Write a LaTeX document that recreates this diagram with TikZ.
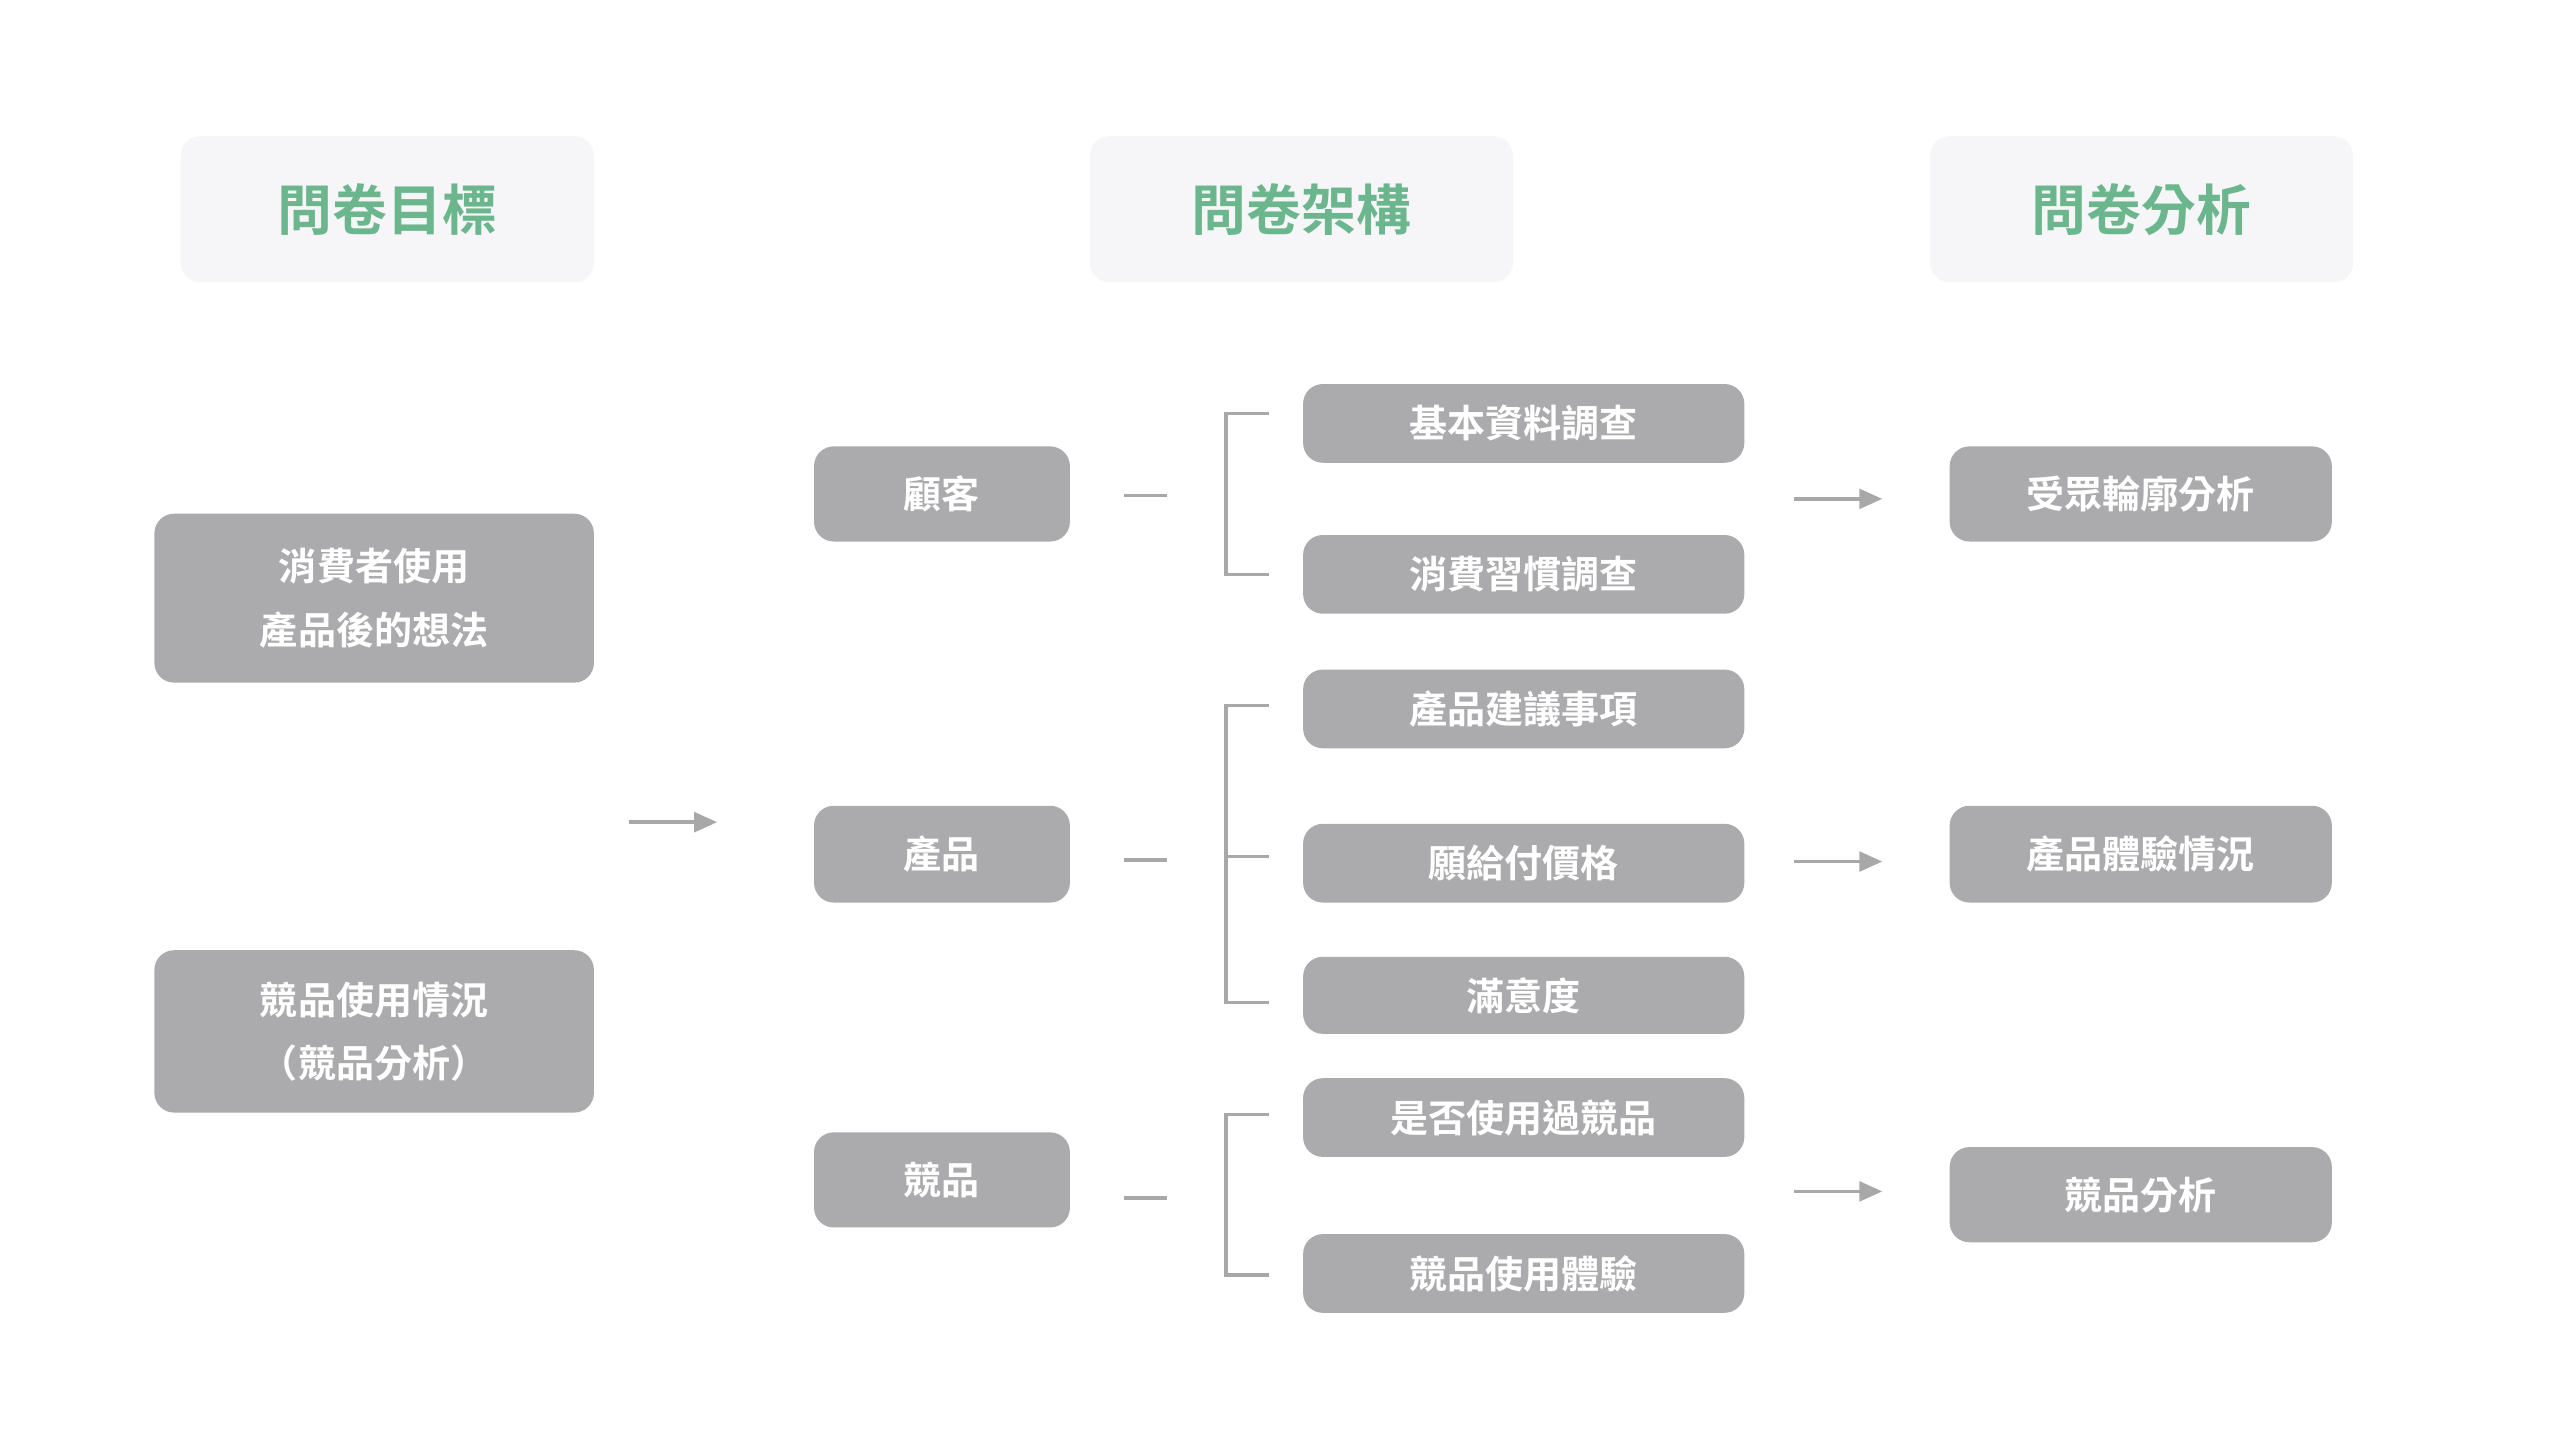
\documentclass[tikz,border=0pt]{standalone}
\usepackage{fontspec}
\newfontfamily\cjk{Noto Sans CJK TC}[BoldFont={Noto Sans CJK TC Bold}]
\usetikzlibrary{arrows.meta}
\definecolor{boxg}{HTML}{ABAAAD}
\definecolor{hdr}{HTML}{F6F6F8}
\definecolor{grn}{HTML}{6CB68E}
\definecolor{ln}{HTML}{A8A8A8}
\tikzset{
 box/.style={fill=boxg,rounded corners=1.2mm,text=white,font=\cjk\bfseries\fontsize{6.6}{9}\selectfont,align=center,inner sep=0pt},
 hd/.style={fill=hdr,rounded corners=1.2mm,text=grn,font=\cjk\bfseries\fontsize{9.5}{11}\selectfont,inner sep=0pt},
 cn/.style={draw=ln,line width=0.6pt},
 ar/.style={cn,-{Triangle[length=1.4mm,width=1.2mm]}}
}
\newcommand\bx[7]{\node[#1,minimum width={(#4-#3)*0.01cm},minimum height={(#6-#5)*0.01cm}] (#2) at ({(#3+#4)/200},{-(#5+#6)/200}) {#7};}
\begin{document}
\begin{tikzpicture}
\fill[white] (0,0) rectangle (15.6,-8.775);
\useasboundingbox (0,0) rectangle (15.6,-8.775);
\bx{hd}{h1}{110}{362}{83}{172}{問卷目標}
\bx{hd}{h2}{664}{922}{83}{172}{問卷架構}
\bx{hd}{h3}{1176}{1434}{83}{172}{問卷分析}
\bx{box}{l1}{94}{362}{313}{416}{消費者使用\\[2pt]產品後的想法}
\bx{box}{l2}{94}{362}{579}{678}{競品使用情況\\[2pt]（競品分析）}
\bx{box}{m1}{496}{652}{272}{330}{顧客}
\bx{box}{m2}{496}{652}{491}{550}{產品}
\bx{box}{m3}{496}{652}{690}{748}{競品}
\bx{box}{r1}{794}{1063}{234}{282}{基本資料調查}
\bx{box}{r2}{794}{1063}{326}{374}{消費習慣調查}
\bx{box}{r3}{794}{1063}{408}{456}{產品建議事項}
\bx{box}{r4}{794}{1063}{502}{550}{願給付價格}
\bx{box}{r5}{794}{1063}{583}{630}{滿意度}
\bx{box}{r6}{794}{1063}{657}{705}{是否使用過競品}
\bx{box}{r7}{794}{1063}{752}{800}{競品使用體驗}
\bx{box}{f1}{1188}{1421}{272}{330}{受眾輪廓分析}
\bx{box}{f2}{1188}{1421}{491}{550}{產品體驗情況}
\bx{box}{f3}{1188}{1421}{699}{757}{競品分析}
% arrows
\coordinate (a0) at (3.83,-5.01); \coordinate (a1) at (4.37,-5.01);
\draw[ar] (a0) -- (a1);
\foreach \y [count=\i] in {3.04,5.25,7.26}{
 \coordinate (b\i) at (10.93,-\y); \coordinate (c\i) at (11.47,-\y);
 \draw[ar] (b\i) -- (c\i);}
\foreach \y [count=\i] in {3.02,5.24,7.30}{
 \coordinate (d\i) at (6.85,-\y); \coordinate (e\i) at (7.11,-\y);
 \draw[cn] (d\i) -- (e\i);}
\draw[cn] (7.73,-2.52) -- (7.47,-2.52) -- (7.47,-3.50) -- (7.73,-3.50);
\draw[cn] (7.73,-4.30) -- (7.47,-4.30) -- (7.47,-6.11) -- (7.73,-6.11);
\draw[cn] (7.47,-5.22) -- (7.73,-5.22);
\draw[cn] (7.73,-6.79) -- (7.47,-6.79) -- (7.47,-7.77) -- (7.73,-7.77);
\end{tikzpicture}
\end{document}
